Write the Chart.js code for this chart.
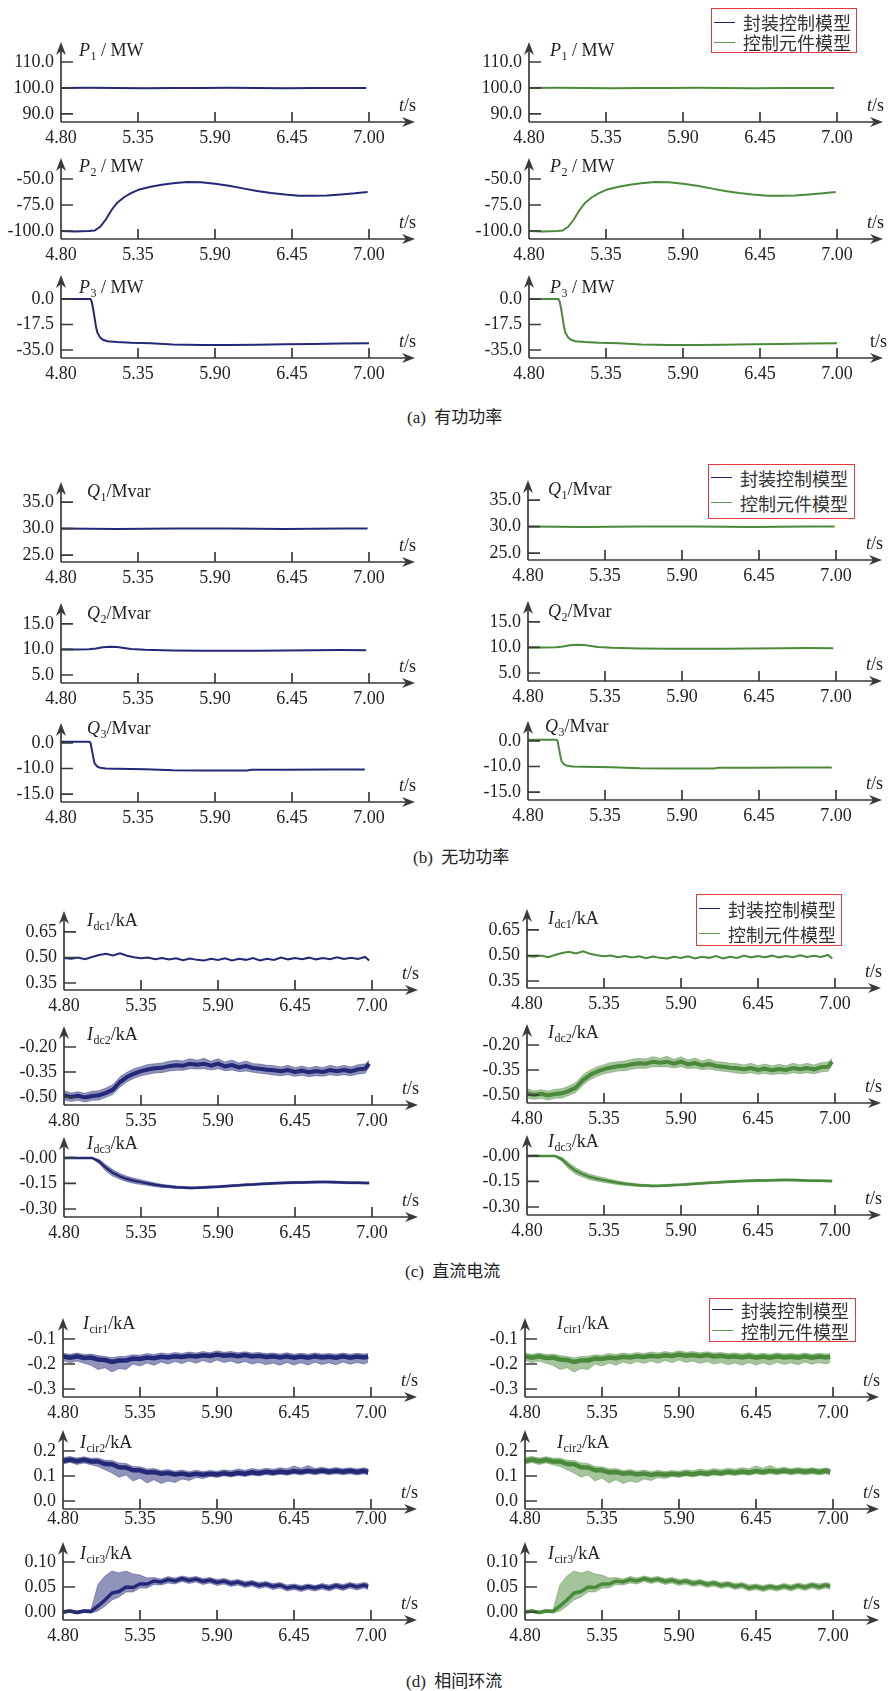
<!DOCTYPE html>
<html><head><meta charset="utf-8">
<script src="https://cdn.jsdelivr.net/npm/chart.js@4.4.1/dist/chart.umd.min.js"></script>
<style>
html,body{margin:0;padding:0;background:#fff;width:889px;height:1691px;overflow:hidden;position:relative;}
canvas{position:absolute;}
.legend{position:absolute;box-sizing:border-box;border:1.5px solid #e8373c;background:#fff;font:18px "Noto Sans CJK SC",sans-serif;color:#333;padding-left:2px;}
.legend .row{display:flex;align-items:center;white-space:nowrap;}
.legend .sw{display:inline-block;width:21px;height:0;border-top:1.6px solid;margin-right:8px;}
.cap{position:absolute;font:17px "Liberation Serif","Noto Sans CJK SC",serif;color:#222;white-space:pre;line-height:24px;}
</style></head><body>
<script>
// ---------------- DATA ----------------
const seriesNames = ['封装控制模型', '控制元件模型'];
const xTickValues = [4.80, 5.35, 5.90, 6.45, 7.00];
const xTickLabels = ['4.80', '5.35', '5.90', '6.45', '7.00'];

// (a) active power
const tP1 = [4.80, 5.00, 5.20, 5.40, 5.60, 5.80, 6.00, 6.20, 6.40, 6.60, 6.80, 6.98];
const P1  = [100.0, 100.1, 100.0, 99.9, 100.0, 100.0, 100.1, 100.0, 99.9, 100.0, 100.0, 100.0];
const tP2 = [4.80, 4.90, 5.00, 5.04, 5.08, 5.12, 5.16, 5.20, 5.25, 5.30, 5.36, 5.44, 5.52, 5.60, 5.70, 5.80, 5.90, 6.00, 6.10, 6.20, 6.30, 6.40, 6.50, 6.60, 6.70, 6.80, 6.90, 6.99];
const P2  = [-100, -100.5, -100, -99.5, -96, -89, -80, -73, -67.5, -63.5, -60, -57.5, -55.5, -54, -53, -53.2, -54.5, -56.5, -59, -61.5, -63.5, -65, -66, -66.2, -65.8, -64.8, -63.8, -62.5];
const tP3 = [4.80, 4.95, 5.01, 5.02, 5.03, 5.04, 5.05, 5.06, 5.08, 5.10, 5.13, 5.20, 5.30, 5.44, 5.60, 5.80, 6.00, 6.20, 6.40, 6.60, 6.80, 7.00];
const P3  = [0, 0, 0, -2, -7, -13, -19, -23, -26.5, -28, -29, -29.5, -30, -30.4, -31.2, -31.6, -31.6, -31.4, -31.0, -30.8, -30.6, -30.4];

// (b) reactive power
const tQ1 = [4.80, 5.20, 5.60, 6.00, 6.40, 6.80, 6.99];
const Q1  = [30.0, 29.95, 30.0, 30.0, 29.95, 30.0, 30.0];
const tQ2 = [4.80, 4.90, 5.00, 5.05, 5.10, 5.15, 5.20, 5.25, 5.30, 5.40, 5.60, 5.80, 6.00, 6.20, 6.40, 6.60, 6.80, 6.98];
const Q2  = [10.0, 10.0, 10.05, 10.2, 10.45, 10.55, 10.5, 10.3, 10.1, 9.95, 9.8, 9.75, 9.75, 9.75, 9.8, 9.85, 9.9, 9.85];
const tQ3 = [4.80, 4.95, 5.00, 5.01, 5.02, 5.03, 5.04, 5.06, 5.08, 5.12, 5.20, 5.40, 5.60, 5.80, 6.00, 6.13, 6.16, 6.40, 6.70, 6.97];
const Q3  = [0.5, 0.5, 0.5, 0.2, -2.5, -5.5, -8, -9.3, -9.7, -10.0, -10.1, -10.3, -10.7, -10.8, -10.8, -10.8, -10.5, -10.5, -10.4, -10.4];

// time grid for the noisy currents
const tGrid = [4.80, 4.85, 4.90, 4.95, 5.00, 5.05, 5.10, 5.15, 5.20, 5.25, 5.30, 5.35, 5.40, 5.45, 5.50, 5.55, 5.60, 5.65, 5.70, 5.75, 5.80, 5.85, 5.90, 5.95, 6.00, 6.05, 6.10, 6.15, 6.20, 6.25, 6.30, 6.35, 6.40, 6.45, 6.50, 6.55, 6.60, 6.65, 6.70, 6.75, 6.80, 6.85, 6.90, 6.95, 6.98];

// (c) DC currents
const Idc1 = [0.497,0.492,0.500,0.490,0.503, 0.515,0.522,0.512,0.524,0.510, 0.502,0.496,0.500,0.490,0.497, 0.488,0.495,0.484,0.494,0.486, 0.482,0.493,0.485,0.495,0.483, 0.492,0.486,0.497,0.482,0.493, 0.486,0.499,0.489,0.497,0.490, 0.499,0.489,0.497,0.490,0.501, 0.491,0.498,0.491,0.503,0.482];
const Idc2 = [-0.490,-0.500,-0.493,-0.503,-0.494, -0.490,-0.475,-0.455,-0.410,-0.380, -0.360,-0.345,-0.335,-0.328,-0.325, -0.315,-0.310,-0.312,-0.300,-0.306, -0.300,-0.312,-0.300,-0.316,-0.308, -0.322,-0.314,-0.326,-0.330,-0.336, -0.340,-0.346,-0.338,-0.350,-0.342, -0.352,-0.344,-0.350,-0.338,-0.346, -0.338,-0.346,-0.334,-0.330,-0.300];
const Idc2Hi = [-0.462,-0.476,-0.468,-0.478,-0.466, -0.462,-0.446,-0.425,-0.378,-0.352, -0.330,-0.318,-0.305,-0.300,-0.296, -0.285,-0.280,-0.284,-0.270,-0.280, -0.268,-0.286,-0.270,-0.290,-0.278, -0.296,-0.284,-0.300,-0.302,-0.310, -0.312,-0.320,-0.310,-0.324,-0.314, -0.326,-0.316,-0.324,-0.310,-0.320, -0.310,-0.320,-0.306,-0.302,-0.280];
const Idc2Lo = [-0.518,-0.526,-0.520,-0.530,-0.520, -0.518,-0.502,-0.484,-0.440,-0.408, -0.388,-0.372,-0.364,-0.356,-0.354, -0.344,-0.340,-0.340,-0.330,-0.332, -0.330,-0.338,-0.330,-0.342,-0.338, -0.348,-0.344,-0.352,-0.358,-0.362, -0.368,-0.372,-0.366,-0.376,-0.370, -0.378,-0.372,-0.376,-0.366,-0.372, -0.366,-0.372,-0.362,-0.358,-0.322];
const Idc3 = [0.000,0.001,-0.001,0.000,0.000, -0.020,-0.058,-0.088,-0.108,-0.124, -0.134,-0.142,-0.150,-0.158,-0.164, -0.168,-0.172,-0.174,-0.176,-0.175, -0.173,-0.171,-0.169,-0.166,-0.163, -0.161,-0.158,-0.156,-0.153,-0.151, -0.149,-0.147,-0.146,-0.145,-0.144, -0.143,-0.142,-0.141,-0.142,-0.143, -0.145,-0.146,-0.146,-0.147,-0.147];
const Idc3Hi = [0.003,0.004,0.002,0.003,0.003, -0.008,-0.040,-0.070,-0.092,-0.108, -0.119,-0.128,-0.138,-0.147,-0.155, -0.160,-0.165,-0.168,-0.170,-0.169, -0.167,-0.165,-0.163,-0.160,-0.157, -0.155,-0.152,-0.150,-0.147,-0.145, -0.143,-0.141,-0.140,-0.139,-0.138, -0.137,-0.136,-0.135,-0.136,-0.137, -0.139,-0.140,-0.140,-0.141,-0.141];
const Idc3Lo = [-0.003,-0.002,-0.004,-0.003,-0.003, -0.032,-0.078,-0.108,-0.125,-0.140, -0.149,-0.156,-0.162,-0.169,-0.173, -0.176,-0.179,-0.180,-0.182,-0.181, -0.179,-0.177,-0.175,-0.172,-0.169, -0.167,-0.164,-0.162,-0.159,-0.157, -0.155,-0.153,-0.152,-0.151,-0.150, -0.149,-0.148,-0.147,-0.148,-0.149, -0.151,-0.152,-0.152,-0.153,-0.153];

// (d) circulating currents: core trace and spike envelope
const Icir1 = [-0.170,-0.175,-0.169,-0.176,-0.174, -0.182,-0.184,-0.192,-0.186,-0.186, -0.178,-0.180,-0.174,-0.177,-0.171, -0.174,-0.169,-0.172,-0.167,-0.170, -0.165,-0.168,-0.162,-0.167,-0.164, -0.169,-0.164,-0.170,-0.167,-0.172, -0.169,-0.174,-0.169,-0.175,-0.170, -0.175,-0.169,-0.174,-0.171,-0.175, -0.169,-0.175,-0.170,-0.174,-0.171];
const Icir1Hi = [-0.157,-0.161,-0.156,-0.162,-0.160, -0.166,-0.170,-0.175,-0.170,-0.169, -0.163,-0.165,-0.158,-0.162,-0.156, -0.160,-0.154,-0.158,-0.152,-0.156, -0.150,-0.155,-0.147,-0.153,-0.150, -0.155,-0.151,-0.156,-0.154,-0.158, -0.156,-0.160,-0.155,-0.161,-0.157, -0.161,-0.156,-0.160,-0.158,-0.161, -0.156,-0.161,-0.157,-0.160,-0.158];
const Icir1Lo = [-0.186,-0.195,-0.188,-0.197,-0.205, -0.222,-0.215,-0.232,-0.218,-0.222, -0.200,-0.208,-0.196,-0.205,-0.192, -0.200,-0.190,-0.198,-0.188,-0.197, -0.186,-0.195,-0.184,-0.194,-0.188, -0.198,-0.190,-0.200,-0.194,-0.203, -0.196,-0.205,-0.194,-0.204,-0.195, -0.204,-0.193,-0.202,-0.195,-0.203, -0.192,-0.201,-0.194,-0.200,-0.193];
const Icir2 = [0.160,0.166,0.159,0.165,0.158, 0.158,0.148,0.147,0.135,0.134, 0.123,0.123,0.114,0.116,0.109, 0.112,0.106,0.110,0.104,0.109, 0.105,0.109,0.106,0.111,0.107, 0.113,0.109,0.115,0.111,0.117, 0.113,0.118,0.114,0.120,0.116, 0.121,0.117,0.122,0.117,0.121, 0.117,0.121,0.116,0.121,0.116];
const Icir2Hi = [0.174,0.178,0.172,0.177,0.171, 0.172,0.163,0.162,0.152,0.150, 0.138,0.137,0.128,0.130,0.122, 0.126,0.119,0.124,0.117,0.123, 0.118,0.122,0.119,0.125,0.121, 0.128,0.123,0.130,0.125,0.131, 0.127,0.133,0.129,0.140,0.131, 0.142,0.130,0.135,0.129,0.134, 0.129,0.133,0.128,0.133,0.128];
const Icir2Lo = [0.148,0.154,0.146,0.152,0.145, 0.138,0.125,0.112,0.095,0.104, 0.080,0.092,0.072,0.085,0.070, 0.080,0.074,0.088,0.082,0.094, 0.090,0.098,0.094,0.101,0.096, 0.102,0.098,0.104,0.100,0.106, 0.102,0.107,0.103,0.109,0.104, 0.110,0.105,0.110,0.105,0.109, 0.105,0.109,0.104,0.109,0.104];
const Icir3 = [0.000,0.002,-0.001,0.002,0.001, 0.012,0.024,0.038,0.041,0.050, 0.049,0.056,0.056,0.062,0.060, 0.065,0.062,0.067,0.063,0.066, 0.061,0.064,0.059,0.062,0.057, 0.060,0.055,0.058,0.053,0.056, 0.051,0.054,0.048,0.051,0.047, 0.051,0.048,0.052,0.048,0.053, 0.049,0.054,0.050,0.054,0.051];
const Icir3Hi = [0.003,0.005,0.002,0.005,0.004, 0.055,0.072,0.082,0.078,0.082, 0.076,0.074,0.068,0.069,0.066, 0.071,0.068,0.072,0.069,0.071, 0.067,0.069,0.065,0.067,0.063, 0.065,0.061,0.063,0.059,0.061, 0.057,0.059,0.054,0.056,0.053, 0.056,0.053,0.057,0.054,0.058, 0.055,0.059,0.056,0.059,0.057];
const Icir3Lo = [-0.003,-0.001,-0.004,-0.001,-0.002, 0.002,0.012,0.024,0.030,0.040, 0.040,0.048,0.048,0.055,0.054, 0.058,0.056,0.061,0.057,0.060, 0.055,0.058,0.053,0.056,0.051, 0.054,0.049,0.052,0.047,0.050, 0.045,0.048,0.042,0.045,0.041, 0.045,0.042,0.046,0.042,0.047, 0.043,0.048,0.044,0.048,0.045];

// y tick values / labels
const yTicksP1 = [90, 100, 110],   yLabP1 = ['90.0', '100.0', '110.0'];
const yTicksP2 = [-100, -75, -50], yLabP2 = ['-100.0', '-75.0', '-50.0'];
const yTicksP3 = [-35, -17.5, 0],  yLabP3 = ['-35.0', '-17.5', '0.0'];
const yTicksQ1 = [25, 30, 35],     yLabQ1 = ['25.0', '30.0', '35.0'];
const yTicksQ2 = [5, 10, 15],      yLabQ2 = ['5.0', '10.0', '15.0'];
const yTicksQ3 = [-20, -10, 0],    yLabQ3 = ['-15.0', '-10.0', '0.0'];
const yTicksI1 = [0.35, 0.50, 0.65],   yLabI1 = ['0.35', '0.50', '0.65'];
const yTicksI2 = [-0.50, -0.35, -0.20], yLabI2 = ['-0.50', '-0.35', '-0.20'];
const yTicksI3 = [-0.30, -0.15, 0],    yLabI3 = ['-0.30', '-0.15', '-0.00'];
const yTicksC1 = [-0.3, -0.2, -0.1],   yLabC1 = ['-0.3', '-0.2', '-0.1'];
const yTicksC2 = [0, 0.1, 0.2],        yLabC2 = ['0.0', '0.1', '0.2'];
const yTicksC3 = [0, 0.05, 0.10],      yLabC3 = ['0.00', '0.05', '0.10'];

// ---------------- STYLE / LAYOUT ----------------
const COLORS = ['#232877', '#4a8a3a'];
const BANDS = ['rgba(35,40,119,0.5)', 'rgba(74,138,58,0.5)'];
const AXIS = '#3a3a3a';
const TXT = '#222';
const SERIF = '"Liberation Serif", "Times New Roman", serif';

function lab(main, sub, rest) { return [{text: main, italic: true}, {text: sub, sub: true}, {text: rest}]; }

const groups = [
  { rows: [[42,122],[158,239],[275,358]], axisX: [61,529], dyR: 0,
    panels: [
      {t: tP1, v: P1, lw: 2, yMin: 86.9, yMax: 117.7, yt: yTicksP1, yl: yLabP1, label: lab('P','1',' / MW'), ldx: [18,21], ldy: 14},
      {t: tP2, v: P2, lw: 2, yMin: -107.7, yMax: -29.8, yt: yTicksP2, yl: yLabP2, label: lab('P','2',' / MW'), ldx: [18,21], ldy: 14},
      {t: tP3, v: P3, lw: 2, yMin: -40.5, yMax: 16.5, yt: yTicksP3, yl: yLabP3, label: lab('P','3',' / MW'), ldx: [18,21], ldy: 18, tsPlainR: true}
    ],
    legend: {left: 711, top: 8, w: 146, h: 45, rowH: 20, padT: 3},
    caption: {text: '(a)  有功功率', left: 407, cy: 418} },
  { rows: [[482,562],[603,683],[723,802]], axisX: [61,528], dyR: -2,
    panels: [
      {t: tQ1, v: Q1, lw: 2, yMin: 23.7, yMax: 38.8, yt: yTicksQ1, yl: yLabQ1, label: lab('Q','1','/Mvar'), ldx: [26,20], ldy: 15},
      {t: tQ2, v: Q2, lw: 2, yMin: 3.43, yMax: 19.1, yt: yTicksQ2, yl: yLabQ2, label: lab('Q','2','/Mvar'), ldx: [26,20], ldy: 16},
      {t: tQ3, v: Q3, lw: 2, yMin: -23.1, yMax: 7.8, yt: yTicksQ3, yl: yLabQ3, label: lab('Q','3','/Mvar'), ldx: [26,17], ldy: 11}
    ],
    legend: {left: 708, top: 464, w: 147, h: 55, rowH: 25, padT: 0},
    caption: {text: '(b)  无功功率', left: 413, cy: 858} },
  { rows: [[911,990],[1026,1105],[1137,1217]], axisX: [64,527], dyR: -2,
    panels: [
      {t: tGrid, v: Idc1, lw: 2, yMin: 0.309, yMax: 0.773, yt: yTicksI1, yl: yLabI1, label: lab('I','dc1','/kA'), ldx: [23,21], ldy: 15},
      {t: tGrid, v: Idc2, hi: Idc2Hi, lo: Idc2Lo, lw: 4, yMin: -0.548, yMax: -0.074, yt: yTicksI2, yl: yLabI2, label: lab('I','dc2','/kA'), ldx: [23,21], ldy: 14},
      {t: tGrid, v: Idc3, hi: Idc3Hi, lo: Idc3Lo, lw: 2.5, yMin: -0.347, yMax: 0.123, yt: yTicksI3, yl: yLabI3, label: lab('I','dc3','/kA'), ldx: [23,21], ldy: 12}
    ],
    legend: {left: 696, top: 894, w: 146, h: 52, rowH: 25, padT: 1},
    caption: {text: '(c)  直流电流', left: 405, cy: 1272} },
  { rows: [[1318,1397],[1430,1509],[1542,1620]], axisX: [63,525], dyR: 0,
    panels: [
      {t: tGrid, v: Icir1, hi: Icir1Hi, lo: Icir1Lo, lw: 4.5, yMin: -0.332, yMax: -0.016, yt: yTicksC1, yl: yLabC1, label: lab('I','cir1','/kA'), ldx: [20,32], ldy: 11},
      {t: tGrid, v: Icir2, hi: Icir2Hi, lo: Icir2Lo, lw: 4.5, yMin: -0.032, yMax: 0.284, yt: yTicksC2, yl: yLabC2, label: lab('I','cir2','/kA'), ldx: [17,32], ldy: 18, xpad: -1},
      {t: tGrid, v: Icir3, hi: Icir3Hi, lo: Icir3Lo, lw: 3.5, yMin: -0.016, yMax: 0.14, yt: yTicksC3, yl: yLabC3, label: lab('I','cir3','/kA'), ldx: [17,23], ldy: 17}
    ],
    legend: {left: 709, top: 1298, w: 147, h: 44, rowH: 21, padT: 0},
    caption: {text: '(d)  相间环流', left: 406, cy: 1682} }
];

function pts(t, v) { return t.map((x, i) => ({x: x, y: v[i]})); }

function drawRich(ctx, parts, x, y) {
  let cx = x;
  ctx.textAlign = 'left'; ctx.textBaseline = 'alphabetic';
  parts.forEach(p => {
    const size = p.sub ? 12 : 18;
    ctx.font = (p.italic ? 'italic ' : '') + size + 'px ' + SERIF;
    ctx.fillText(p.text, cx + (p.sub ? 0.5 : 0), y + (p.sub ? 4 : 0));
    cx += ctx.measureText(p.text).width + (p.sub ? 0.5 : 0);
  });
}

function arrow(ctx, x, y, dir) {
  ctx.beginPath();
  if (dir === 'up') {
    ctx.moveTo(x, y); ctx.lineTo(x - 5, y + 13); ctx.lineTo(x, y + 9); ctx.lineTo(x + 5, y + 13);
  } else {
    ctx.moveTo(x, y); ctx.lineTo(x - 13, y - 5); ctx.lineTo(x - 9, y); ctx.lineTo(x - 13, y + 5);
  }
  ctx.closePath(); ctx.fill();
}

const decoPlugin = {
  id: 'deco',
  afterDraw(chart, args, o) {
    const ctx = chart.ctx, a = chart.chartArea, xs = chart.scales.x, ys = chart.scales.y;
    ctx.save();
    ctx.strokeStyle = AXIS; ctx.fillStyle = AXIS; ctx.lineWidth = 1.7;
    ctx.beginPath();
    ctx.moveTo(a.left, a.bottom); ctx.lineTo(a.right - 6, a.bottom);
    ctx.moveTo(a.left, a.bottom); ctx.lineTo(a.left, a.top + 6);
    xTickValues.slice(1).forEach(v => { const px = xs.getPixelForValue(v); ctx.moveTo(px, a.bottom); ctx.lineTo(px, a.bottom - 10); });
    o.yt.forEach(v => { const py = ys.getPixelForValue(v); ctx.moveTo(a.left, py); ctx.lineTo(a.left + 12, py); });
    ctx.stroke();
    arrow(ctx, a.left, a.top, 'up');
    arrow(ctx, a.right, a.bottom, 'right');
    ctx.fillStyle = TXT;
    drawRich(ctx, o.label, a.left + o.ldx, a.top + o.ldy);
    if (o.tsPlain) drawRich(ctx, [{text: 't/s'}], a.left + 341, a.bottom - 11);
    else drawRich(ctx, [{text: 't', italic: true}, {text: '/s'}], a.left + 338, a.bottom - 11);
    ctx.restore();
  }
};

const PAD_T = 24, PAD_R = 12, YW = 60, XH = 30, PLOT_W = 354;
const X_MIN = 4.80, X_MAX = 4.80 + PLOT_W * (2.2 / 308);

function makePanel(spec, col, top, axisY, axisX) {
  const plotH = axisY - top;
  const W = YW + PLOT_W + PAD_R, H = PAD_T + plotH + XH;
  const cv = document.createElement('canvas');
  cv.width = W; cv.height = H;
  cv.style.left = (axisX - YW) + 'px'; cv.style.top = (top - PAD_T) + 'px';
  cv.style.width = W + 'px'; cv.style.height = H + 'px';
  document.body.appendChild(cv);
  const datasets = [{label: seriesNames[col], data: pts(spec.t, spec.v), borderColor: COLORS[col], borderWidth: spec.lw,
                     pointRadius: 0, tension: 0, fill: false, borderJoinStyle: 'miter'}];
  if (spec.hi) {
    datasets.push({data: pts(spec.t, spec.hi), borderColor: BANDS[col], borderWidth: 0.8, pointRadius: 0, fill: false});
    datasets.push({data: pts(spec.t, spec.lo), borderColor: BANDS[col], borderWidth: 0.8, pointRadius: 0, fill: '-1', backgroundColor: BANDS[col]});
  }
  const tickFont = {family: SERIF, size: 18};
  new Chart(cv, {
    type: 'line',
    data: {datasets},
    options: {
      responsive: false, animation: false, events: [],
      layout: {padding: {top: PAD_T, right: PAD_R, left: 0, bottom: 0}},
      plugins: {legend: {display: false}, tooltip: {enabled: false},
        deco: {yt: spec.yt, label: spec.label, ldx: spec.ldx[col], ldy: spec.ldy, tsPlain: col === 1 && spec.tsPlainR}},
      scales: {
        x: {type: 'linear', min: X_MIN, max: X_MAX, grid: {display: false, drawTicks: false}, border: {display: false},
            afterBuildTicks: s => { s.ticks = xTickValues.map(v => ({value: v})); },
            afterFit: s => { s.height = XH; },
            ticks: {autoSkip: false, maxRotation: 0, padding: (spec.xpad !== undefined ? spec.xpad : 5), color: TXT, font: tickFont,
                    callback: (v, i) => xTickLabels[i]}},
        y: {type: 'linear', min: spec.yMin, max: spec.yMax, grid: {display: false, drawTicks: false}, border: {display: false},
            afterBuildTicks: s => { s.ticks = spec.yt.map(v => ({value: v})); },
            afterFit: s => { s.width = YW; },
            ticks: {autoSkip: false, padding: 7, color: TXT, font: tickFont, callback: (v, i) => spec.yl[i]}}
      }
    },
    plugins: [decoPlugin]
  });
}

groups.forEach(g => {
  g.panels.forEach((p, r) => {
    const [top, axisY] = g.rows[r];
    makePanel(p, 0, top, axisY, g.axisX[0]);
    makePanel(p, 1, top + g.dyR, axisY + g.dyR, g.axisX[1]);
  });
  const L = g.legend;
  const d = document.createElement('div');
  d.className = 'legend';
  Object.assign(d.style, {left: L.left + 'px', top: L.top + 'px', width: L.w + 'px', height: L.h + 'px', paddingTop: L.padT + 'px'});
  seriesNames.forEach((n, i) => {
    const row = document.createElement('div');
    row.className = 'row'; row.style.height = L.rowH + 'px';
    const sw = document.createElement('span'); sw.className = 'sw'; sw.style.borderColor = i === 0 ? '#1c2170' : '#5a9a4a';
    const tx = document.createElement('span'); tx.textContent = n;
    row.appendChild(sw); row.appendChild(tx); d.appendChild(row);
  });
  document.body.appendChild(d);
  const c = document.createElement('div');
  c.className = 'cap'; c.textContent = g.caption.text;
  c.style.left = g.caption.left + 'px'; c.style.top = (g.caption.cy - 12) + 'px';
  document.body.appendChild(c);
});
</script>
</body></html>
